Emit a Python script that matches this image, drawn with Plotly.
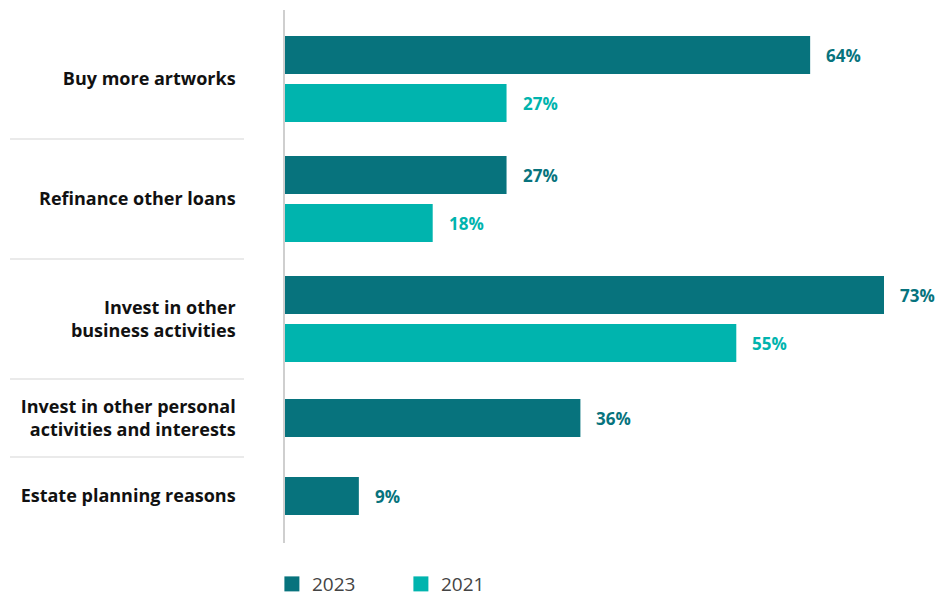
import plotly.graph_objects as go

categories = [
    "Buy more artworks",
    "Refinance other loans",
    "Invest in other<br>business activities",
    "Invest in other personal<br>activities and interests",
    "Estate planning reasons",
]
series_names = ["2023", "2021"]
values_2023 = [64, 27, 73, 36, 9]
values_2021 = [27, 18, 55, None, None]

colors = {"2023": "#07737D", "2021": "#00B4AE"}
series_vals = {"2023": values_2023, "2021": values_2021}

# page offset (body margin) compensation
OFF = 8
FIG_W, FIG_H = 949 - OFF, 598 - OFF

# layout in pixel-like axis units (1 unit = 1 px of plot height), page coords
PLOT_TOP, PLOT_BOTTOM = 10, 543
start = 19
bar_w = 38
pitch = 48

pos = {s: [None] * len(categories) for s in series_names}
centers, seps = [], []
cur = start
for i, cat in enumerate(categories):
    present = [s for s in series_names if series_vals[s][i] is not None]
    n = len(present)
    h = 36 + 42 * n
    c = cur + h / 2
    centers.append(c)
    for k, s in enumerate(present):
        pos[s][i] = c + (k - (n - 1) / 2) * pitch
    cur += h
    if i < len(categories) - 1:
        seps.append(cur)

fig = go.Figure()
for s in series_names:
    ys = [p for p, v in zip(pos[s], series_vals[s]) if v is not None]
    xs = [v for v in series_vals[s] if v is not None]
    fig.add_trace(go.Bar(
        x=xs, y=ys, orientation="h", name=s, width=bar_w,
        marker=dict(color=colors[s], line=dict(width=0)),
        hoverinfo="skip", showlegend=False,
    ))
    for x, y in zip(xs, ys):
        fig.add_annotation(
            x=x, y=y, xref="x", yref="y", text=f"<b>{x}%</b>",
            showarrow=False, xanchor="left", yanchor="middle", xshift=14,
            font=dict(family="Open Sans", size=17, color=colors[s]),
        )
    # legend entry with a larger square swatch
    fig.add_trace(go.Scatter(
        x=[None], y=[None], mode="markers", name=s,
        marker=dict(symbol="square", size=15, color=colors[s]),
        showlegend=True, hoverinfo="skip",
    ))

plot_left, plot_right = 285, 940
pw = plot_right - plot_left
for y in seps:
    fig.add_shape(type="line", xref="paper", yref="y",
                  x0=(10 - plot_left) / pw, x1=(244 - plot_left) / pw,
                  y0=y, y1=y, line=dict(color="#e3e3e3", width=1.5))

fig.update_layout(
    width=FIG_W, height=FIG_H,
    margin=dict(l=plot_left - OFF, r=949 - plot_right, t=PLOT_TOP - OFF,
                b=598 - PLOT_BOTTOM, autoexpand=False),
    paper_bgcolor="white", plot_bgcolor="white",
    barmode="overlay",
    font=dict(family="Open Sans", color="#111111"),
    xaxis=dict(visible=False, range=[0, pw / ((884 - 285) / 73)]),
    yaxis=dict(
        range=[PLOT_BOTTOM, PLOT_TOP],
        tickvals=centers, ticktext=[f"<b>{c}</b>" for c in categories],
        tickfont=dict(family="Open Sans", size=18, color="#111111"),
        showgrid=False, zeroline=False,
        showline=True, linecolor="#cfcfcf", linewidth=1.5,
        ticks="", ticklabelstandoff=44,
    ),
    legend=dict(
        orientation="h", x=-0.02, xanchor="left", y=-0.077, yanchor="middle",
        font=dict(family="Open Sans", size=19, color="#444444"),
        entrywidth=84, entrywidthmode="pixels", traceorder="normal",
        itemclick=False,
    ),
    showlegend=True,
)

fig.write_html("out.html")
